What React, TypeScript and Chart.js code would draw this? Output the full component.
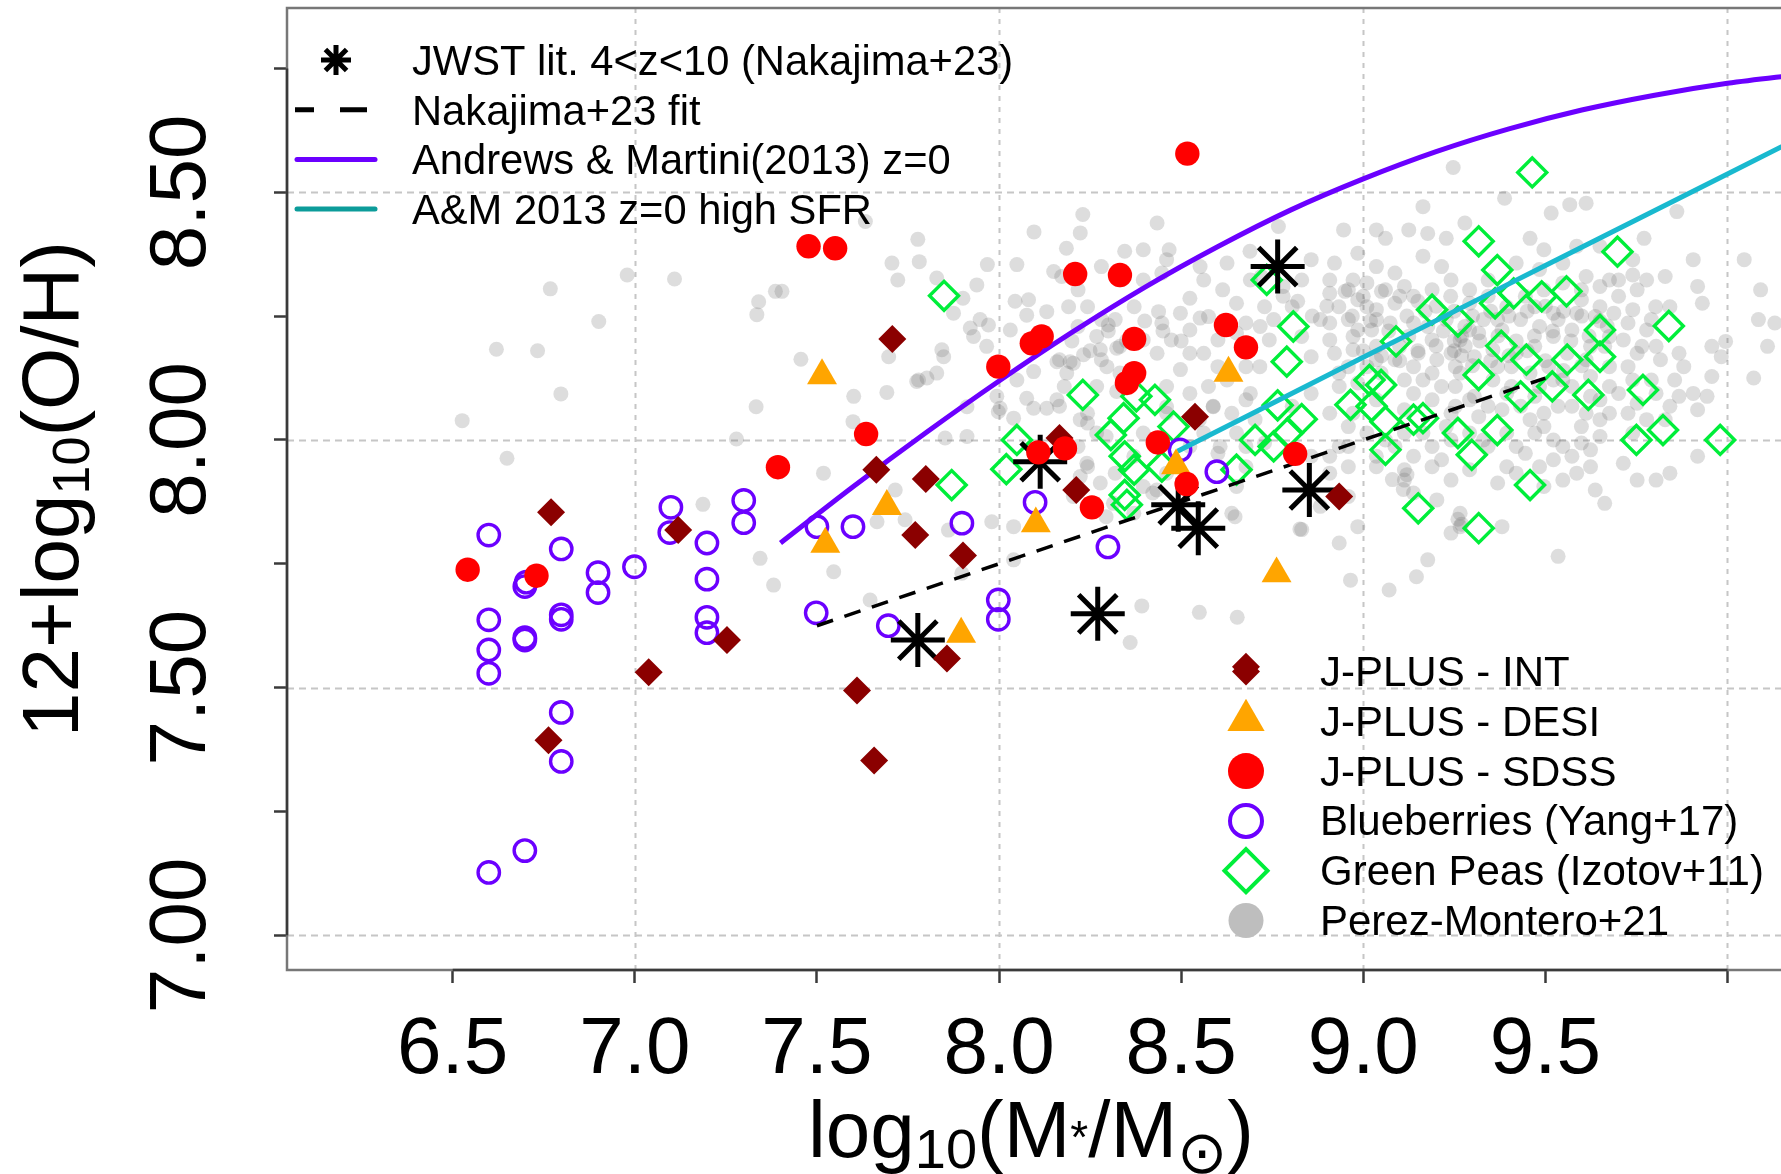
import React, { useEffect, useRef } from 'react';
import { Chart, registerables } from 'chart.js';

Chart.register(...registerables);

// ---------------- axis setup ----------------
const xMin = 6.045;
const xMax = 10.147;
const yMin = 6.93;
const yMax = 8.872;
const xTickValues = [6.5, 7, 7.5, 8, 8.5, 9, 9.5, 10];
const xTickLabels = ['6.5', '7.0', '7.5', '8.0', '8.5', '9.0', '9.5', ''];
const yTickValues = [7, 7.25, 7.5, 7.75, 8, 8.25, 8.5, 8.75];
const yTickLabels = ['7.00', '', '7.50', '', '8.00', '', '8.50', ''];
const xGridValues = [7, 8, 9, 10];
const yGridValues = [7, 7.5, 8, 8.5];

// ---------------- data (log M*, 12+log O/H) ----------------
const jwstStars: [number, number][] = [
  [8.765, 8.35], [7.777, 7.596], [8.271, 7.649], [8.113, 7.956], [8.492, 7.869], [8.547, 7.822], [8.852, 7.899],
];

const jplusINT: [number, number][] = [
  [7.707, 8.204], [7.663, 7.94], [7.799, 7.921], [7.77, 7.808], [7.901, 7.767], [8.166, 8.004], [8.212, 7.899],
  [8.538, 8.047], [7.857, 7.559], [8.678, 7.542], [8.934, 7.886], [6.77, 7.854], [7.119, 7.818], [7.253, 7.596],
  [7.038, 7.531], [6.763, 7.394], [7.61, 7.494], [7.657, 7.353],
];

const jplusDESI: [number, number][] = [
  [7.514, 8.13], [7.692, 7.866], [7.523, 7.79], [8.101, 7.831], [8.486, 7.948], [8.63, 8.135], [7.896, 7.608], [8.762, 7.73],
];

const jplusSDSS: [number, number][] = [
  [8.517, 8.578], [7.477, 8.391], [7.55, 8.387], [8.209, 8.335], [8.332, 8.333], [8.117, 8.209], [8.09, 8.195],
  [8.371, 8.204], [8.623, 8.232], [8.678, 8.187], [7.998, 8.148], [8.371, 8.135], [8.351, 8.115], [7.635, 8.012],
  [7.393, 7.945], [8.108, 7.975], [8.181, 7.983], [8.436, 7.995], [8.515, 7.911], [8.255, 7.864], [8.813, 7.972],
  [6.541, 7.738], [6.73, 7.726],
];

const blueberries: [number, number][] = [
  [6.599, 7.808], [6.798, 7.78], [6.698, 7.704], [6.702, 7.713], [6.899, 7.732], [6.899, 7.692], [6.999, 7.744],
  [7.099, 7.864], [7.096, 7.813], [7.198, 7.792], [7.198, 7.719], [7.198, 7.642], [7.198, 7.611], [7.299, 7.878],
  [7.299, 7.833], [6.599, 7.637], [6.599, 7.576], [6.599, 7.529], [6.698, 7.601], [6.698, 7.596], [6.798, 7.647],
  [6.798, 7.638], [7.5, 7.825], [7.599, 7.825], [7.898, 7.832], [8.099, 7.874], [8.299, 7.784], [8.598, 7.936],
  [8.497, 7.98], [7.498, 7.651], [7.696, 7.625], [7.998, 7.677], [7.998, 7.638], [6.798, 7.45], [6.798, 7.351],
  [6.698, 7.171], [6.599, 7.127],
];

const greenPeas: [number, number][] = [
  [9.464, 8.54], [9.317, 8.401], [9.698, 8.38], [9.368, 8.343], [9.413, 8.296], [9.49, 8.29], [9.558, 8.3],
  [9.362, 8.276], [9.189, 8.263], [9.26, 8.239], [8.808, 8.229], [9.65, 8.222], [9.839, 8.23], [9.09, 8.199],
  [9.379, 8.19], [9.448, 8.162], [9.56, 8.162], [9.65, 8.168], [8.79, 8.158], [9.317, 8.131], [8.23, 8.091],
  [8.428, 8.081], [8.377, 8.088], [9.017, 8.121], [9.049, 8.111], [9.519, 8.108], [9.432, 8.088], [9.618, 8.091],
  [9.768, 8.101], [8.965, 8.071], [9.023, 8.068], [8.342, 8.044], [8.307, 8.01], [8.765, 8.07], [8.831, 8.042],
  [9.061, 8.037], [9.138, 8.041], [9.164, 8.044], [8.479, 8.027], [8.703, 8.0], [8.754, 7.987], [8.793, 8.014],
  [9.26, 8.014], [9.368, 8.02], [9.75, 8.0], [9.823, 8.02], [9.98, 8.0], [9.061, 7.98], [9.298, 7.97],
  [8.345, 7.967], [8.371, 7.94], [8.652, 7.94], [8.345, 7.889], [8.351, 7.869], [9.458, 7.909], [9.151, 7.862],
  [9.317, 7.822], [8.447, 7.946], [7.849, 8.291], [8.049, 8.0], [8.02, 7.941], [7.87, 7.909], [8.735, 8.323],
];

const perezMontero: [number, number][] = [
  [6.768, 8.305], [6.979, 8.333], [7.109, 8.325], [6.901, 8.239], [7.34, 8.279], [7.335, 8.253], [7.386, 8.3],
  [6.62, 8.183], [6.733, 8.18], [6.797, 8.093], [6.526, 8.039], [6.649, 7.963], [7.333, 8.067], [7.279, 8.002],
  [7.187, 7.87], [7.344, 7.761], [7.381, 7.707],
  [7.777, 8.405], [7.633, 8.441], [7.706, 8.357], [7.781, 8.36], [7.722, 8.323], [7.404, 8.3], [7.968, 8.354],
  [8.049, 8.354], [7.939, 8.313], [7.829, 8.327], [7.901, 8.286], [7.875, 8.256], [7.948, 8.243], [7.921, 8.226],
  [7.971, 8.232], [8.044, 8.28], [8.081, 8.283], [8.076, 8.252], [8.031, 8.222], [8.096, 8.42], [8.131, 8.259],
  [8.15, 8.34], [8.46, 8.364], [8.552, 8.35], [8.689, 8.381], [8.438, 8.259], [8.3, 8.232], [8.717, 8.229], [8.552, 8.246],
  [7.456, 8.163], [7.601, 8.088], [7.692, 8.096], [7.599, 8.037], [7.518, 7.933], [7.715, 7.899], [7.665, 7.835],
  [7.546, 7.734], [7.646, 7.677], [7.742, 7.839], [7.779, 8.121], [7.802, 8.125], [7.829, 8.135], [7.848, 8.168],
  [7.843, 8.182], [7.774, 8.118], [7.912, 8.067], [7.852, 8.004], [7.912, 8.007], [7.861, 7.818], [7.98, 7.835],
  [8.04, 7.825], [8.04, 7.758], [7.898, 7.731], [7.998, 8.057], [8.003, 8.064], [8.04, 8.044], [8.076, 8.084],
  [8.095, 8.064], [8.131, 8.064], [7.994, 8.088], [8.049, 8.121], [8.095, 8.138], [7.966, 8.189], [7.93, 8.209],
  [7.697, 8.168],
  [8.159, 8.158], [8.195, 8.158], [8.232, 8.172], [8.186, 8.135], [8.159, 8.081], [8.223, 8.041], [8.278, 8.182],
  [8.296, 8.148], [8.323, 8.185], [8.241, 7.953], [8.223, 7.926], [8.278, 7.913], [8.314, 7.872], [8.433, 7.899],
  [8.392, 7.665], [8.36, 7.591], [8.55, 7.652], [8.654, 7.642], [8.648, 7.845], [8.323, 8.098], [8.46, 8.067],
  [8.588, 8.067], [8.607, 7.987],
  [8.23, 8.455], [8.434, 8.438], [8.223, 8.418], [8.185, 8.387], [8.345, 8.381], [8.396, 8.384], [8.467, 8.384],
  [8.767, 8.431], [8.946, 8.424], [9.036, 8.424], [9.061, 8.407], [9.125, 8.424], [9.164, 8.471], [9.177, 8.417],
  [9.228, 8.407], [9.279, 8.438], [9.388, 8.488], [9.516, 8.458], [9.567, 8.475], [9.612, 8.478], [9.458, 8.407],
  [9.496, 8.384], [9.586, 8.391], [9.65, 8.391], [9.771, 8.407], [9.861, 8.461], [9.74, 8.364], [9.906, 8.364],
  [10.046, 8.364], [10.091, 8.303], [10.13, 8.236], [10.072, 8.125], [9.957, 8.189], [9.995, 8.199], [9.931, 8.276],
  [9.918, 8.31], [9.829, 8.33], [9.778, 8.323], [9.74, 8.333], [9.803, 8.269],
  [8.172, 8.33], [8.217, 8.303], [8.281, 8.35], [8.332, 8.323], [8.396, 8.323], [8.447, 8.337], [8.524, 8.286],
  [8.575, 8.249], [8.614, 8.303], [8.652, 8.276], [8.678, 8.236], [8.729, 8.269], [8.78, 8.29], [8.371, 8.269],
  [8.319, 8.243], [8.268, 8.209], [8.217, 8.229], [8.166, 8.162], [8.204, 8.155], [8.281, 8.162], [8.332, 8.135],
  [8.434, 8.175], [8.473, 8.202], [8.524, 8.222], [8.562, 8.175], [8.498, 8.142], [8.575, 8.108], [8.524, 8.094],
  [8.46, 8.108], [8.268, 8.108], [8.179, 8.108], [8.166, 8.068], [8.243, 8.054], [8.46, 8.054], [8.588, 8.068],
  [8.69, 8.094], [8.716, 8.148], [8.742, 8.202], [8.831, 8.209], [8.857, 8.168], [8.908, 8.202], [8.882, 8.243],
  [8.959, 8.243], [8.908, 8.296], [8.972, 8.323], [8.857, 8.364], [8.921, 8.357], [8.985, 8.377], [9.036, 8.35],
  [9.087, 8.337], [9.061, 8.303], [9.113, 8.31], [9.164, 8.371], [9.215, 8.35], [9.241, 8.323], [9.292, 8.303],
  [9.343, 8.323], [9.42, 8.357], [9.484, 8.344], [9.548, 8.357], [9.612, 8.33], [9.676, 8.323], [9.701, 8.29],
  [9.65, 8.269], [9.599, 8.283], [9.522, 8.256], [9.471, 8.269], [9.369, 8.243], [9.292, 8.222], [9.266, 8.202],
  [9.317, 8.216], [9.241, 8.175], [9.189, 8.202], [9.138, 8.236], [9.036, 8.243], [9.01, 8.269], [8.985, 8.222],
  [9.036, 8.189], [9.087, 8.162], [8.959, 8.148], [9.01, 8.148], [8.934, 8.108], [8.857, 8.094], [8.805, 8.068],
  [8.703, 8.041], [8.652, 8.014], [8.678, 7.987], [8.729, 7.994], [8.908, 8.054], [8.959, 8.027], [8.934, 7.987],
  [8.959, 7.946], [8.908, 7.933], [8.857, 7.967], [9.138, 8.148], [9.164, 8.121], [9.138, 8.094], [9.215, 8.108],
  [9.266, 8.135], [9.369, 8.148], [9.42, 8.175], [9.471, 8.189], [9.522, 8.209], [9.573, 8.222], [9.624, 8.189],
  [9.676, 8.209], [9.727, 8.236], [9.778, 8.222], [9.804, 8.189], [9.752, 8.175], [9.727, 8.148], [9.676, 8.148],
  [9.624, 8.128], [9.548, 8.121], [9.484, 8.108], [9.394, 8.094], [9.343, 8.068], [9.292, 8.081], [9.241, 8.054],
  [9.432, 8.068], [9.496, 8.054], [9.573, 8.068], [9.65, 8.081], [9.701, 8.094], [9.791, 8.121], [9.855, 8.121],
  [9.88, 8.148], [9.842, 8.068], [9.778, 8.041], [9.727, 8.054], [9.65, 8.041], [9.612, 8.054], [9.906, 8.094],
  [9.944, 8.088], [9.918, 8.061], [9.957, 8.128], [9.983, 8.168], [9.918, 7.967], [9.842, 7.933], [9.804, 7.919],
  [9.714, 7.953], [9.624, 7.98], [9.599, 7.994], [9.548, 7.987], [9.522, 7.96], [9.445, 7.973], [9.471, 8.014],
  [9.496, 8.027], [9.394, 8.014], [9.343, 7.987], [9.292, 8.014], [9.241, 8.0], [9.189, 7.987], [9.113, 8.014],
  [9.087, 7.987], [9.036, 7.946], [9.113, 7.94], [9.189, 7.946], [9.241, 7.919], [9.113, 7.919], [9.138, 7.893],
  [9.202, 7.879], [9.266, 7.852], [9.266, 7.825], [9.241, 7.812], [9.369, 7.913], [9.381, 7.825], [9.496, 7.906],
  [9.548, 7.919], [9.637, 7.899], [9.663, 7.872], [9.586, 7.933], [9.42, 7.933], [9.535, 7.765], [8.985, 7.825],
  [8.934, 7.792], [8.831, 7.819], [8.639, 7.852], [8.422, 7.893], [8.37, 7.852], [8.294, 7.845], [8.243, 7.946],
  [8.204, 7.886], [8.959, 7.886], [8.882, 7.866], [8.908, 7.967], [9.177, 7.758], [10.11, 8.189], [10.085, 8.243],
  [8.243, 8.034], [8.294, 8.007], [8.396, 8.014], [8.37, 7.967], [8.562, 8.014], [8.601, 7.973], [8.678, 7.946],
  [8.652, 7.906],
  [9.247, 8.55], [9.146, 7.724], [8.965, 7.717], [9.071, 7.697], [8.826, 7.82],
  // dense core of the cloud
  [8.908, 8.323], [8.959, 8.303], [9.01, 8.317], [8.933, 8.269], [8.985, 8.283], [9.036, 8.263], [9.087, 8.276],
  [9.138, 8.29], [9.189, 8.303], [9.24, 8.29], [9.292, 8.276], [9.343, 8.29], [9.394, 8.269], [9.445, 8.29],
  [9.496, 8.303], [9.548, 8.317], [9.599, 8.303], [9.65, 8.31], [9.701, 8.323], [9.752, 8.303],
  [8.908, 8.236], [8.972, 8.209], [9.023, 8.222], [9.074, 8.236], [9.125, 8.209], [9.177, 8.229], [9.228, 8.243],
  [9.279, 8.229], [9.33, 8.243], [9.381, 8.222], [9.432, 8.243], [9.484, 8.229], [9.535, 8.243], [9.586, 8.256],
  [9.637, 8.249], [9.688, 8.256], [9.74, 8.263], [9.791, 8.243], [9.842, 8.269],
  [8.921, 8.175], [8.972, 8.182], [9.036, 8.162], [9.1, 8.189], [9.151, 8.175], [9.202, 8.162], [9.253, 8.148],
  [9.305, 8.168], [9.356, 8.182], [9.407, 8.148], [9.458, 8.135], [9.509, 8.148], [9.56, 8.175], [9.612, 8.162],
  [9.663, 8.189], [9.714, 8.202], [9.765, 8.189], [9.816, 8.162], [9.867, 8.175],
  [8.933, 8.135], [8.985, 8.115], [9.049, 8.135], [9.113, 8.121], [9.189, 8.135], [9.253, 8.108], [9.305, 8.088],
  [9.356, 8.121], [9.407, 8.108], [9.471, 8.088], [9.522, 8.121], [9.573, 8.108], [9.624, 8.088], [9.676, 8.108],
  [9.74, 8.121], [9.804, 8.094], [9.867, 8.088],
  [8.972, 8.054], [9.036, 8.081], [9.113, 8.061], [9.189, 8.081], [9.253, 8.068], [9.317, 8.047], [9.381, 8.061],
  [9.458, 8.041], [9.535, 8.068], [9.599, 8.027], [9.676, 8.054], [9.752, 8.074], [9.829, 8.041],
  [9.01, 8.014], [9.061, 8.0], [9.164, 8.014], [9.228, 8.027], [9.33, 8.0], [9.42, 7.987], [9.522, 8.0],
  [9.573, 7.967], [9.65, 8.007], [9.74, 8.014],
  [8.959, 7.987], [9.036, 7.967], [9.138, 7.967], [9.215, 7.96], [9.292, 7.94], [9.394, 7.946], [9.484, 7.946],
  [9.624, 7.946], [9.752, 7.919],
  [8.678, 8.148], [8.626, 8.121], [8.601, 8.202], [8.652, 8.216], [8.754, 8.243], [8.805, 8.269], [8.831, 8.323],
  [8.69, 8.323], [8.626, 8.357], [8.562, 8.323], [8.498, 8.256], [8.447, 8.236], [8.396, 8.202], [8.332, 8.189],
  [8.281, 8.243], [8.243, 8.269], [8.191, 8.269], [8.524, 8.175], [8.601, 8.148], [8.678, 8.081], [8.639, 8.054],
  [8.55, 8.041], [8.524, 7.987], [8.46, 7.933], [8.396, 7.906], [8.319, 7.933], [8.268, 8.014], [8.217, 7.987],
  // darkest clumps
  [8.95, 8.3], [9.0, 8.29], [9.05, 8.3], [9.1, 8.29], [9.15, 8.28], [9.2, 8.27], [9.25, 8.26], [9.3, 8.25],
  [9.35, 8.26], [9.4, 8.25], [9.45, 8.26], [9.5, 8.27], [9.55, 8.26], [9.6, 8.25], [9.65, 8.24],
  [8.97, 8.25], [9.02, 8.24], [9.07, 8.22], [9.12, 8.25], [9.17, 8.26], [9.22, 8.22], [9.27, 8.21], [9.32, 8.2],
  [9.37, 8.21], [9.42, 8.2], [9.47, 8.21], [9.52, 8.22], [9.57, 8.2], [9.62, 8.21], [9.67, 8.23],
  [9.0, 8.18], [9.05, 8.17], [9.1, 8.16], [9.15, 8.18], [9.2, 8.19], [9.25, 8.18], [9.3, 8.15], [9.35, 8.16],
  [9.4, 8.17], [9.45, 8.18], [9.5, 8.16], [9.55, 8.14], [9.6, 8.15],
  [9.25, 8.2], [9.28, 8.19], [9.27, 8.17], [9.08, 7.92], [9.11, 7.9], [9.12, 7.93], [9.27, 7.83], [9.26, 7.84],
  [8.72, 8.33], [8.78, 8.31], [8.82, 8.28], [8.86, 8.25], [8.9, 8.27],
  [8.2, 8.2], [8.25, 8.18], [8.3, 8.22], [8.35, 8.2], [8.4, 8.24], [8.45, 8.22], [8.5, 8.2],
];

// relations
const nakajimaMass = [7.5, 9.5];
const nakajimaOH = [7.625, 8.125];
const amMass = [7.4, 7.6, 7.8, 8.0, 8.2, 8.4, 8.6, 8.8, 9.0, 9.2, 9.4, 9.6, 9.8, 10.0, 10.2];
const amOH = [7.792, 7.906, 8.015, 8.119, 8.217, 8.308, 8.39, 8.464, 8.527, 8.582, 8.628, 8.666, 8.696, 8.72, 8.738];
const amHighMass = [8.49, 9.0, 9.5, 10.0, 10.2];
const amHighOH = [7.977, 8.167, 8.352, 8.537, 8.611];

// legend texts
const legendTopLabels = [
  'JWST lit. 4<z<10 (Nakajima+23)',
  'Nakajima+23 fit',
  'Andrews & Martini(2013) z=0',
  'A&M 2013 z=0 high SFR',
];
const legendBottomLabels = [
  'J-PLUS - INT',
  'J-PLUS - DESI',
  'J-PLUS - SDSS',
  'Blueberries (Yang+17)',
  'Green Peas (Izotov+11)',
  'Perez-Montero+21',
];

// colours
const C_PURPLE = '#6b00ff';
const C_CYAN = '#19b9cf';
const C_CYAN_LEG = '#0c9c9a';
const C_GREEN = '#00ee3a';
const C_DARKRED = '#8b0000';
const C_ORANGE = '#ffa500';
const C_RED = '#ff0000';
const C_GRAY = 'rgba(110,110,110,0.23)';

const FONT = '"Liberation Sans", Arial, "DejaVu Sans", sans-serif';

const pts = (arr: [number, number][]) => arr.map(([x, y]) => ({ x, y }));
const zipPts = (xs: number[], ys: number[]) => xs.map((x, i) => ({ x, y: ys[i] }));

type Part = { t: string; s: number; dy: number };

function drawRich(ctx: CanvasRenderingContext2D, parts: Part[], x: number, y: number, rotate: boolean) {
  ctx.save();
  ctx.translate(x, y);
  if (rotate) ctx.rotate(-Math.PI / 2);
  ctx.textAlign = 'left';
  ctx.textBaseline = 'alphabetic';
  ctx.fillStyle = '#000';
  const widths = parts.map((p) => {
    ctx.font = `${p.s}px ${FONT}`;
    return ctx.measureText(p.t).width;
  });
  const total = widths.reduce((a, b) => a + b, 0);
  let cx = -total / 2;
  parts.forEach((p, i) => {
    ctx.font = `${p.s}px ${FONT}`;
    ctx.fillText(p.t, cx, p.dy);
    cx += widths[i];
  });
  ctx.restore();
}

function starPath(ctx: CanvasRenderingContext2D, x: number, y: number, r: number, lw: number) {
  ctx.save();
  ctx.strokeStyle = '#000';
  ctx.lineWidth = lw;
  ctx.beginPath();
  for (let k = 0; k < 4; k++) {
    const a = (k * Math.PI) / 4;
    ctx.moveTo(x - Math.cos(a) * r, y - Math.sin(a) * r);
    ctx.lineTo(x + Math.cos(a) * r, y + Math.sin(a) * r);
  }
  ctx.stroke();
  ctx.restore();
}

function diamondPath(ctx: CanvasRenderingContext2D, x: number, y: number, r: number) {
  ctx.beginPath();
  ctx.moveTo(x, y - r);
  ctx.lineTo(x + r, y);
  ctx.lineTo(x, y + r);
  ctx.lineTo(x - r, y);
  ctx.closePath();
}

function trianglePath(ctx: CanvasRenderingContext2D, x: number, y: number, r: number) {
  ctx.beginPath();
  ctx.moveTo(x, y - r);
  ctx.lineTo(x + r * 0.866, y + r * 0.5);
  ctx.lineTo(x - r * 0.866, y + r * 0.5);
  ctx.closePath();
}

const framePlugin = {
  id: 'framePlugin',
  beforeDatasetsDraw(chart: any) {
    const { ctx, chartArea: a, scales } = chart;
    const xs = scales.x;
    const ys = scales.y;
    ctx.save();
    ctx.lineWidth = 2;
    ctx.strokeStyle = '#c6c6c6';
    ctx.setLineDash([7, 5]);
    yGridValues.forEach((v) => {
      const py = Math.round(ys.getPixelForValue(v)) + 0.5;
      ctx.beginPath();
      ctx.moveTo(a.left, py);
      ctx.lineTo(a.right, py);
      ctx.stroke();
    });
    ctx.setLineDash([5, 6]);
    xGridValues.forEach((v) => {
      const px = Math.round(xs.getPixelForValue(v)) + 0.5;
      ctx.beginPath();
      ctx.moveTo(px, a.top);
      ctx.lineTo(px, a.bottom);
      ctx.stroke();
    });
    ctx.restore();
  },
  afterDraw(chart: any) {
    const { ctx, chartArea: a, scales } = chart;
    const xs = scales.x;
    const ys = scales.y;
    ctx.save();
    // box
    ctx.strokeStyle = '#777';
    ctx.lineWidth = 2.5;
    ctx.beginPath();
    ctx.moveTo(a.right + 5, a.top);
    ctx.lineTo(a.left, a.top);
    ctx.lineTo(a.left, a.bottom);
    ctx.lineTo(a.right + 5, a.bottom);
    ctx.stroke();
    ctx.strokeStyle = '#3a3a3a';
    ctx.beginPath();
    ctx.moveTo(xs.getPixelForValue(xTickValues[0]), a.bottom);
    ctx.lineTo(xs.getPixelForValue(xTickValues[xTickValues.length - 1]), a.bottom);
    ctx.moveTo(a.left, ys.getPixelForValue(yTickValues[0]));
    ctx.lineTo(a.left, ys.getPixelForValue(yTickValues[yTickValues.length - 1]));
    ctx.stroke();

    // tick labels
    ctx.fillStyle = '#000';
    ctx.font = `80px ${FONT}`;
    ctx.textAlign = 'center';
    ctx.textBaseline = 'alphabetic';
    xTickValues.forEach((v, i) => {
      if (!xTickLabels[i]) return;
      ctx.fillText(xTickLabels[i], xs.getPixelForValue(v), a.bottom + 103);
    });
    yTickValues.forEach((v, i) => {
      if (!yTickLabels[i]) return;
      ctx.save();
      ctx.translate(a.left - 82, ys.getPixelForValue(v));
      ctx.rotate(-Math.PI / 2);
      ctx.fillText(yTickLabels[i], 0, 0);
      ctx.restore();
    });

    // axis titles
    drawRich(
      ctx,
      [
        { t: 'log', s: 80, dy: 0 },
        { t: '10', s: 56, dy: 11 },
        { t: '(M', s: 80, dy: 0 },
        { t: '*', s: 46, dy: -4 },
        { t: '/M', s: 80, dy: 0 },
        { t: '⊙', s: 60, dy: 16 },
        { t: ')', s: 80, dy: 0 },
      ],
      (a.left + a.right) / 2 - 3,
      a.bottom + 187,
      false,
    );
    drawRich(
      ctx,
      [
        { t: '12+log', s: 80, dy: 0 },
        { t: '10', s: 52, dy: 11 },
        { t: '(O/H)', s: 80, dy: 0 },
      ],
      a.left - 209,
      (a.top + a.bottom) / 2,
      true,
    );

    // top-left legend
    ctx.textAlign = 'left';
    ctx.textBaseline = 'alphabetic';
    ctx.font = `41.7px ${FONT}`;
    const lx = a.left;
    const baseTop = a.top + 67;
    legendTopLabels.forEach((label, i) => {
      const by = baseTop + i * 49.7;
      const cy = by - 15;
      if (i === 0) {
        starPath(ctx, lx + 49, cy, 15, 5);
      } else if (i === 1) {
        ctx.save();
        ctx.strokeStyle = '#000';
        ctx.lineWidth = 5;
        ctx.beginPath();
        ctx.moveTo(lx + 8, cy);
        ctx.lineTo(lx + 27, cy);
        ctx.moveTo(lx + 53, cy);
        ctx.lineTo(lx + 80, cy);
        ctx.stroke();
        ctx.restore();
      } else {
        ctx.save();
        ctx.strokeStyle = i === 2 ? C_PURPLE : C_CYAN_LEG;
        ctx.lineWidth = 5;
        ctx.lineCap = 'round';
        ctx.beginPath();
        ctx.moveTo(lx + 10, cy);
        ctx.lineTo(lx + 88, cy);
        ctx.stroke();
        ctx.restore();
      }
      ctx.fillStyle = '#000';
      ctx.fillText(label, lx + 125, by);
    });

    // bottom-right legend
    ctx.font = `42px ${FONT}`;
    const sx = 1246;
    const tx = 1320;
    legendBottomLabels.forEach((label, i) => {
      const by = 686 + i * 49.8;
      const cy = by - 14.5;
      ctx.save();
      if (i === 0) {
        diamondPath(ctx, sx, cy, 14);
        ctx.fillStyle = C_DARKRED;
        ctx.fill();
      } else if (i === 1) {
        trianglePath(ctx, sx, cy - 1, 21.5);
        ctx.fillStyle = C_ORANGE;
        ctx.fill();
      } else if (i === 2) {
        ctx.beginPath();
        ctx.arc(sx, cy, 18, 0, Math.PI * 2);
        ctx.fillStyle = C_RED;
        ctx.fill();
      } else if (i === 3) {
        ctx.beginPath();
        ctx.arc(sx, cy, 16, 0, Math.PI * 2);
        ctx.strokeStyle = C_PURPLE;
        ctx.lineWidth = 4;
        ctx.stroke();
      } else if (i === 4) {
        diamondPath(ctx, sx, cy, 21.5);
        ctx.strokeStyle = C_GREEN;
        ctx.lineWidth = 4;
        ctx.stroke();
      } else {
        ctx.beginPath();
        ctx.arc(sx, cy, 17.5, 0, Math.PI * 2);
        ctx.fillStyle = '#bebebe';
        ctx.fill();
      }
      ctx.restore();
      ctx.fillStyle = '#000';
      ctx.fillText(label, tx, by);
    });
    ctx.restore();
  },
};

export default function App() {
  const canvasRef = useRef<HTMLCanvasElement | null>(null);

  useEffect(() => {
    document.body.style.margin = '0';
    const canvas = canvasRef.current;
    if (!canvas) return;
    const chart = new Chart(canvas, {
      type: 'scatter',
      data: {
        datasets: [
          {
            label: 'J-PLUS - SDSS',
            data: pts(jplusSDSS),
            pointStyle: 'circle',
            pointRadius: 12.2,
            backgroundColor: C_RED,
            borderWidth: 0,
            order: 1,
          },
          {
            label: 'J-PLUS - DESI',
            data: pts(jplusDESI),
            pointStyle: 'triangle',
            pointRadius: 17.3,
            backgroundColor: C_ORANGE,
            borderWidth: 0,
            order: 2,
          },
          {
            label: 'J-PLUS - INT',
            data: pts(jplusINT),
            pointStyle: 'rectRot',
            pointRadius: 14,
            backgroundColor: C_DARKRED,
            borderWidth: 0,
            order: 3,
          },
          {
            label: 'JWST lit. 4<z<10 (Nakajima+23)',
            data: pts(jwstStars),
            pointStyle: 'star',
            pointRadius: 27,
            borderColor: '#000',
            borderWidth: 5,
            backgroundColor: '#000',
            order: 4,
          },
          {
            label: 'Nakajima+23 fit',
            data: zipPts(nakajimaMass, nakajimaOH),
            showLine: true,
            pointRadius: 0,
            borderColor: '#000',
            borderWidth: 3.5,
            borderDash: [17, 12],
            order: 5,
          },
          {
            label: 'A&M 2013 z=0 high SFR',
            data: zipPts(amHighMass, amHighOH),
            showLine: true,
            pointRadius: 0,
            borderColor: C_CYAN,
            borderWidth: 5,
            cubicInterpolationMode: 'monotone',
            order: 6,
          },
          {
            label: 'Andrews & Martini(2013) z=0',
            data: zipPts(amMass, amOH),
            showLine: true,
            pointRadius: 0,
            borderColor: C_PURPLE,
            borderWidth: 5,
            cubicInterpolationMode: 'monotone',
            order: 7,
          },
          {
            label: 'Blueberries (Yang+17)',
            data: pts(blueberries),
            pointStyle: 'circle',
            pointRadius: 10.7,
            backgroundColor: 'rgba(0,0,0,0)',
            borderColor: C_PURPLE,
            borderWidth: 3.4,
            order: 8,
          },
          {
            label: 'Green Peas (Izotov+11)',
            data: pts(greenPeas),
            pointStyle: 'rectRot',
            pointRadius: 14.5,
            backgroundColor: 'rgba(0,0,0,0)',
            borderColor: C_GREEN,
            borderWidth: 3.4,
            order: 9,
          },
          {
            label: 'Perez-Montero+21',
            data: pts(perezMontero),
            pointStyle: 'circle',
            pointRadius: 7.5,
            backgroundColor: C_GRAY,
            borderWidth: 0,
            order: 10,
          },
        ],
      },
      options: {
        animation: false,
        responsive: false,
        devicePixelRatio: 1,
        events: [],
        layout: { autoPadding: false, padding: { left: 274, top: 8, right: 0, bottom: 191 } },
        plugins: { legend: { display: false }, tooltip: { enabled: false }, title: { display: false } },
        scales: {
          x: {
            type: 'linear',
            min: xMin,
            max: xMax,
            afterBuildTicks: (scale: any) => {
              scale.ticks = xTickValues.map((v) => ({ value: v }));
            },
            ticks: { display: false },
            border: { display: false },
            grid: {
              display: true,
              drawOnChartArea: false,
              drawTicks: true,
              tickLength: 13,
              tickWidth: 2.5,
              tickColor: '#3a3a3a',
            },
          },
          y: {
            type: 'linear',
            min: yMin,
            max: yMax,
            afterBuildTicks: (scale: any) => {
              scale.ticks = yTickValues.map((v) => ({ value: v }));
            },
            ticks: { display: false },
            border: { display: false },
            grid: {
              display: true,
              drawOnChartArea: false,
              drawTicks: true,
              tickLength: 13,
              tickWidth: 2.5,
              tickColor: '#3a3a3a',
            },
          },
        },
      },
      plugins: [framePlugin],
    } as any);
    return () => chart.destroy();
  }, []);

  return (
    <div style={{ position: 'fixed', left: 0, top: 0, width: 1781, height: 1174, background: '#fff', overflow: 'hidden' }}>
      <canvas ref={canvasRef} width={1781} height={1174} style={{ display: 'block', width: 1781, height: 1174 }} />
    </div>
  );
}
